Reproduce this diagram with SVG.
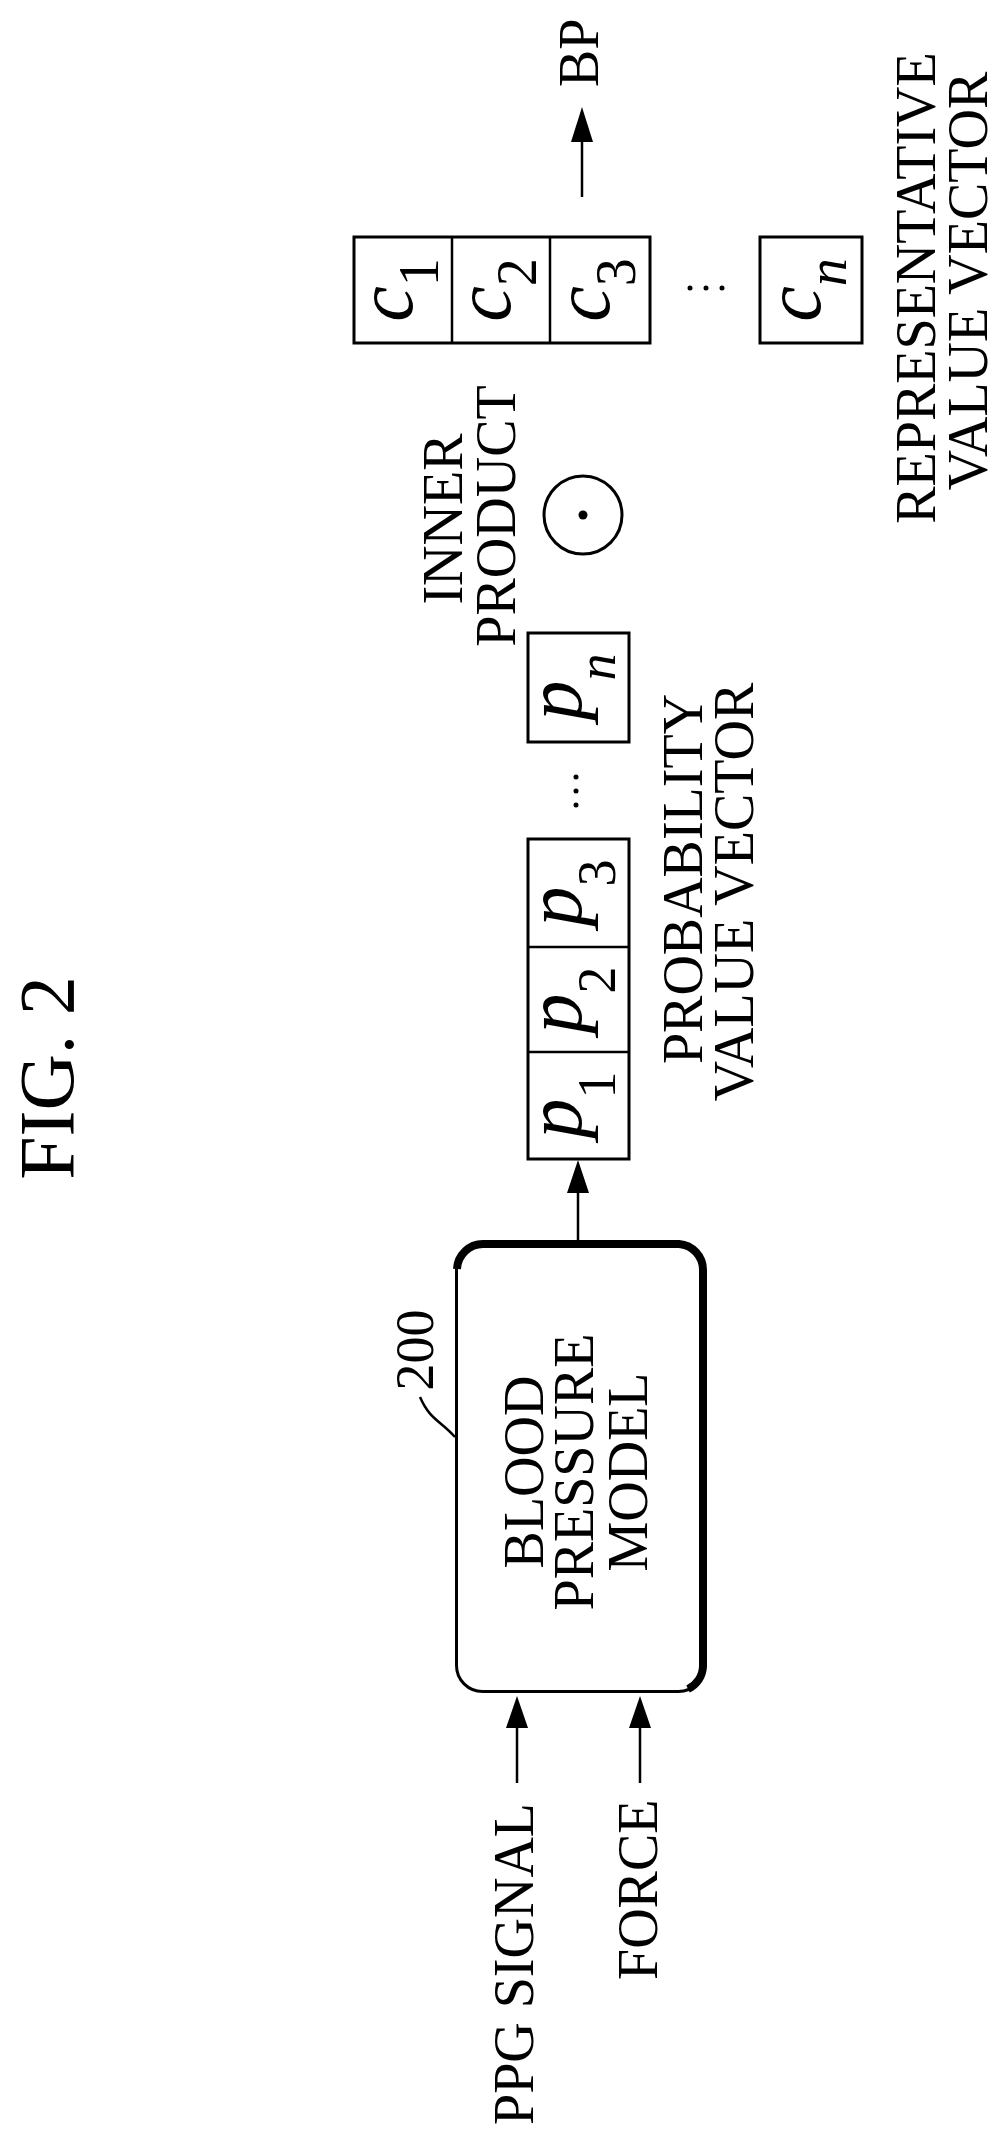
<svg xmlns="http://www.w3.org/2000/svg" width="1007" height="2147" viewBox="0 0 1007 2147">
<style>
text{font-family:"Liberation Serif","Times New Roman",serif;fill:#000}
.lb{font-size:56px}
.v{font-size:80px;font-style:italic}
.box{fill:none;stroke:#000;stroke-width:3}
.ln{stroke:#000;stroke-width:2.5;fill:none}
</style>
<rect width="1007" height="2147" fill="#fff"/>
<text class="lb" style="font-size:78px" transform="translate(73,1078) rotate(-90)" text-anchor="middle">FIG. 2</text>

<g id="connectors">
<path class="ln" d="M517 1783 V1726"/>
<path d="M517 1696 L528 1728 L506 1728 Z"/>
<path class="ln" d="M640 1783 V1726"/>
<path d="M640 1696 L651 1728 L629 1728 Z"/>
<path class="ln" d="M578 1240 V1190"/>
<path d="M578 1160 L589 1193 L567 1193 Z"/>
<path class="ln" d="M582 197 V140"/>
<path d="M582 107 L593 142 L571 142 Z"/>
<path class="ln" d="M455 1437 C440 1420 430 1420 420 1397"/>
</g>

<g id="ppg"><text class="lb" transform="translate(533,2125) rotate(-90)">PPG SIGNAL</text></g>
<g id="force"><text class="lb" transform="translate(657,1980) rotate(-90)">FORCE</text></g>

<g id="model">
<rect class="box" x="456.5" y="1243" width="248" height="448.5" rx="26"/>
<path d="M457 1269 A26 26 0 0 1 483 1244 H679 A26 26 0 0 1 703 1270 V1666 A26 26 0 0 1 688 1689" fill="none" stroke="#000" stroke-width="8"/>
<text class="lb" transform="translate(543,1472) rotate(-90)" text-anchor="middle">BLOOD</text>
<text class="lb" transform="translate(593,1472) rotate(-90)" text-anchor="middle">PRESSURE</text>
<text class="lb" transform="translate(647,1472) rotate(-90)" text-anchor="middle">MODEL</text>
<text class="lb" style="font-size:54px" transform="translate(433,1350) rotate(-90)" text-anchor="middle">200</text>
</g>

<g id="pvec">
<rect class="box" x="528" y="839" width="101" height="320"/>
<path class="ln" d="M528 947 H629 M528 1052 H629" stroke-width="3"/>
<text class="v" transform="translate(578,1105) rotate(-90)" text-anchor="middle"><tspan dy="3">p</tspan><tspan dy="34" font-size="54" font-style="normal">1</tspan></text>
<text class="v" transform="translate(578,1000) rotate(-90)" text-anchor="middle"><tspan dy="3">p</tspan><tspan dy="34" font-size="54" font-style="normal">2</tspan></text>
<text class="v" transform="translate(578,893) rotate(-90)" text-anchor="middle"><tspan dy="3">p</tspan><tspan dy="34" font-size="54" font-style="normal">3</tspan></text>
<circle cx="576" cy="777" r="2.5"/><circle cx="576" cy="791" r="2.5"/><circle cx="576" cy="805" r="2.5"/>
<rect class="box" x="528" y="633" width="101" height="109"/>
<text class="v" transform="translate(578,687) rotate(-90)" text-anchor="middle"><tspan dy="3">p</tspan><tspan dy="34" font-size="54">n</tspan></text>
<text class="lb" transform="translate(702,879) rotate(-90)" text-anchor="middle">PROBABILITY</text>
<text class="lb" transform="translate(753,892) rotate(-90)" text-anchor="middle">VALUE VECTOR</text>
</g>

<g id="inner">
<circle cx="583" cy="515" r="39" fill="none" stroke="#000" stroke-width="3"/>
<circle cx="583" cy="515" r="4.5"/>
<text class="lb" transform="translate(462,519) rotate(-90)" text-anchor="middle">INNER</text>
<text class="lb" transform="translate(515,516) rotate(-90)" text-anchor="middle">PRODUCT</text>
</g>

<g id="cvec">
<rect class="box" x="354" y="237" width="296" height="106"/>
<path class="ln" d="M452 237 V343 M550 237 V343" stroke-width="3"/>
<text class="v" transform="translate(403,290) rotate(-90)" text-anchor="middle"><tspan dy="9">c</tspan><tspan dy="26" font-size="56" font-style="normal">1</tspan></text>
<text class="v" transform="translate(501,290) rotate(-90)" text-anchor="middle"><tspan dy="9">c</tspan><tspan dy="26" font-size="56" font-style="normal">2</tspan></text>
<text class="v" transform="translate(600,290) rotate(-90)" text-anchor="middle"><tspan dy="9">c</tspan><tspan dy="26" font-size="56" font-style="normal">3</tspan></text>
<circle cx="690" cy="288" r="2.5"/><circle cx="706" cy="288" r="2.5"/><circle cx="722" cy="288" r="2.5"/>
<rect class="box" x="760" y="237" width="102" height="106"/>
<text class="v" transform="translate(811,290) rotate(-90)" text-anchor="middle"><tspan dy="9">c</tspan><tspan dy="26" font-size="56">n</tspan></text>
<text class="lb" transform="translate(935,288) rotate(-90)" text-anchor="middle">REPRESENTATIVE</text>
<text class="lb" transform="translate(987,281) rotate(-90)" text-anchor="middle">VALUE VECTOR</text>
</g>

<g id="bp"><text class="lb" transform="translate(598,87) rotate(-90)">BP</text></g>
</svg>
